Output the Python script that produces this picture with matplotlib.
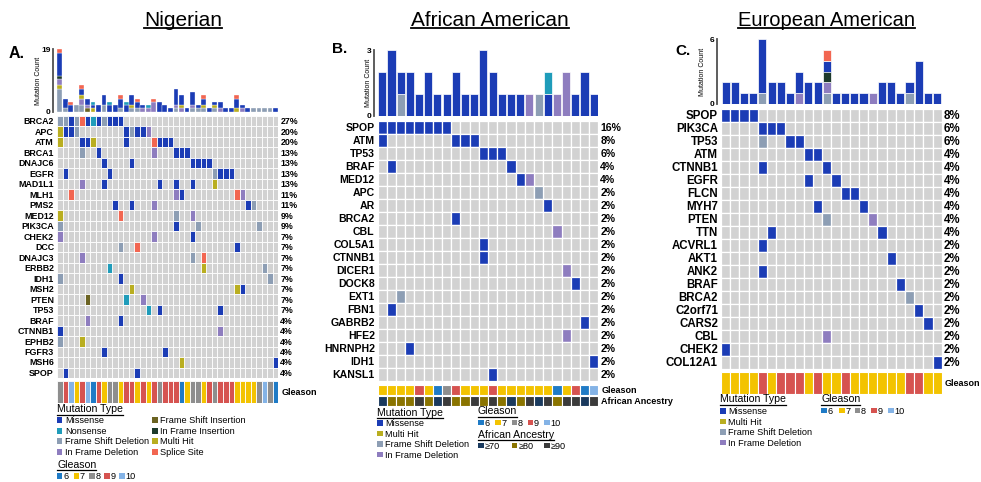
import numpy as np
import matplotlib.pyplot as plt
from matplotlib.patches import Rectangle
from matplotlib.lines import Line2D
from matplotlib.transforms import blended_transform_factory

plt.rcParams['font.family'] = ['Liberation Sans', 'DejaVu Sans']

# mutation codes: M missense, N nonsense, D frame shift deletion, I in frame deletion,
# S frame shift insertion, E in frame insertion, H multi hit, P splice site
mut_colors = {'M': '#1b3cb5', 'N': '#1f9cba', 'D': '#8d9eb4', 'I': '#8e7dbf',
              'S': '#6b6322', 'E': '#1d3a2c', 'H': '#b9ae20', 'P': '#f26651'}
gleason_colors = {6: '#1f7bc6', 7: '#f3c300', 8: '#8e8e8e', 9: '#d65350', 10: '#84b3e6'}
ancestry_colors = {70: '#1a3a5e', 80: '#8a7400', 90: '#3b3b3b'}
grid_bg = '#d2d2d2'

# ---- Nigerian ----
a_genes = ['BRCA2', 'APC', 'ATM', 'BRCA1', 'DNAJC6', 'EGFR', 'MAD1L1', 'MLH1', 'PMS2',
           'MED12', 'PIK3CA', 'CHEK2', 'DCC', 'DNAJC3', 'ERBB2', 'IDH1', 'MSH2', 'PTEN',
           'TP53', 'BRAF', 'CTNNB1', 'EPHB2', 'FGFR3', 'MSH6', 'SPOP']
a_pct = [27, 20, 20, 13, 13, 13, 13, 11, 11, 9, 9, 7, 7, 7, 7, 7, 7, 7, 7, 4, 4, 4, 4, 4, 4]
a_cells = ["0D 1D 2M 3D 4P 5M 6N 7M 8D 9M 10M 11M",
           "0H 1M 2M 3D 12M 13D 14M 15M 16I",
           "0H 4M 5M 6H 12M 17P 18M 19M 20M",
           "4D 7M 17I 21M 22M 23M",
           "8M 13M 24M 25M 26M 27M",
           "1M 9M 28D 29M 30M 31M",
           "4I 8M 18M 21M 24M 28H",
           "2P 21I 22M 32P 33I",
           "10M 13M 17I 34M 35D",
           "0H 11P 21D 24I",
           "0D 21M 25D 36D",
           "0I 17I 24M",
           "11D 14P 32M",
           "4I 24D 26P",
           "9N 26H 37D",
           "0D 11M 38D",
           "13H 32H 33M",
           "5S 12N 15I",
           "16N 18M 29M",
           "5I 11M",
           "0M 29I",
           "0D 4H",
           "8M 19M",
           "22H 39M",
           "1M 14M"]
# per-sample mutation stacks, bottom to top
a_stacks = ["DDDDDDDHIIEMMMMMMMP", "DMMM", "MMP", "DD", "DDIIHMMP", "SIMM", "HMN", "MM",
            "DDMMM", "MMN", "MM", "DMMMP", "MMN", "DHMMM", "DMMP", "IM", "IN", "IIIP",
            "MMM", "MM", "M", "DIMMMMM", "IHMMM", "M", "DIMMMM", "DM", "DHMMP", "M",
            "DHM", "IMM", "M", "M", "HMMMP", "IM", "M", "D", "D", "D", "D", "M"]
a_gleason = [8, 9, 10, 7, 9, 10, 6, 9, 7, 8, 8, 7, 9, 9, 7, 9, 7, 9, 8, 9,
             9, 9, 6, 7, 8, 8, 7, 9, 8, 9, 9, 9, 7, 7, 7, 7, 8, 10, 8, 6]

# ---- African American ----
b_genes = ['SPOP', 'ATM', 'TP53', 'BRAF', 'MED12', 'APC', 'AR', 'BRCA2', 'CBL', 'COL5A1',
           'CTNNB1', 'DICER1', 'DOCK8', 'EXT1', 'FBN1', 'GABRB2', 'HFE2', 'HNRNPH2',
           'IDH1', 'KANSL1']
b_pct = [16, 8, 6, 4, 4, 2, 2, 2, 2, 2, 2, 2, 2, 2, 2, 2, 2, 2, 2, 2]
b_cells = ["0M 1M 2M 3M 4M 5M 6M 7M", "0M 8M 9M 10M", "11M 12M 13M", "1M 14M",
           "15M 16I", "17D", "18M", "8M", "19I", "11M", "11M", "20I", "21M", "2D",
           "1M", "22M", "20I", "3M", "23M", "12M"]
b_stacks = ["MM", "MMM", "DM", "MM", "M", "MM", "M", "M", "MM", "M", "M", "MMM",
            "MM", "M", "M", "M", "I", "D", "MN", "I", "II", "M", "MM", "M"]
b_gleason = [7, 7, 7, 7, 9, 7, 6, 8, 9, 7, 7, 7, 9, 7, 7, 7, 7, 7, 7, 6, 7, 9, 6, 10]
b_ancestry = [70, 80, 80, 80, 90, 80, 70, 90, 80, 80, 90, 80, 90, 80, 70, 80, 90, 70,
              90, 80, 90, 90, 70, 90]

# ---- European American ----
c_genes = ['SPOP', 'PIK3CA', 'TP53', 'ATM', 'CTNNB1', 'EGFR', 'FLCN', 'MYH7', 'PTEN',
           'TTN', 'ACVRL1', 'AKT1', 'ANK2', 'BRAF', 'BRCA2', 'C2orf71', 'CARS2', 'CBL',
           'CHEK2', 'COL12A1']
c_pct = [8, 6, 6, 4, 4, 4, 4, 4, 4, 4, 2, 2, 2, 2, 2, 2, 2, 2, 2, 2]
c_cells = ["0M 1M 2M 3M", "4M 5M 6M", "4D 7M 8M", "9M 10M", "4M 11M", "9M 12M",
           "13M 14M", "10M 15M", "11D 16I", "5M 17M", "4M", "18M", "4M", "19M", "20D",
           "21M", "22M", "11I", "0M", "23M"]
c_stacks = ["MM", "MM", "M", "M", "DMMMMM", "MM", "MM", "M", "IMM", "MM", "MM", "DIEMP",
            "M", "M", "M", "M", "I", "MM", "MM", "M", "DM", "MMMM", "M", "M"]
c_gleason = [7, 7, 7, 7, 9, 7, 9, 9, 9, 7, 9, 7, 7, 9, 7, 7, 7, 7, 7, 7, 9, 9, 7, 7]

W, H = 981, 482
fig = plt.figure(figsize=(W / 100, H / 100), dpi=100)
underlined = []


def fx(x):
    return x / W


def fy(y):
    return 1 - y / H


def half_cap(size):
    # half the cap height in pixels, so a baseline can sit a row's centre
    return 0.36 * size * 100 / 72


def px_axes(x0, y0, x1, y1):
    return fig.add_axes([fx(x0), fy(y1), (x1 - x0) / W, (y1 - y0) / H])


def parse(spec):
    return [(int(tok[:-1]), tok[-1]) for tok in spec.split()]


def ctext(x, y, s, size, **kw):
    # text whose capitals are centred on pixel row y
    return fig.text(fx(x), fy(y + half_cap(size)), s, va='baseline', fontsize=size, **kw)


def draw_bars(box, stacks, ymax, label_x, lw):
    x0, y0, x1, y1 = box
    ax = px_axes(*box)
    for i, s in enumerate(stacks):
        # one segment per run of the same mutation type
        j = 0
        while j < len(s):
            k = j
            while k < len(s) and s[k] == s[j]:
                k += 1
            ax.bar(i + 0.5, k - j, bottom=j, width=0.88, color=mut_colors[s[j]],
                   edgecolor='white', linewidth=lw)
            j = k
    ax.set_xlim(0, len(stacks))
    ax.set_ylim(0, ymax)
    for side in ['top', 'right', 'bottom']:
        ax.spines[side].set_visible(False)
    ax.spines['left'].set_position(('outward', 3))
    ax.spines['left'].set_color('#505050')
    ax.spines['left'].set_linewidth(1.3)
    ax.set_xticks([])
    ax.set_yticks([0, ymax])
    ax.tick_params(axis='y', length=0, pad=1.5, labelsize=6)
    for lab in ax.get_yticklabels():
        lab.set_fontweight('bold')
    ax.patch.set_alpha(0)
    fig.text(fx(label_x), fy((y0 + y1) / 2), 'Mutation Count', rotation=90,
             ha='center', va='center', fontsize=5)


def draw_grid(box, genes, cells, pct, ncol, size, lw):
    x0, y0, x1, y1 = box
    ax = px_axes(*box)
    nrow = len(genes)
    for r in range(nrow):
        for c in range(ncol):
            ax.add_patch(Rectangle((c, r), 1, 1, fc=grid_bg, ec='white', lw=lw))
        for c, code in parse(cells[r]):
            ax.add_patch(Rectangle((c, r), 1, 1, fc=mut_colors[code], ec='white', lw=lw))
    ax.set_xlim(0, ncol)
    ax.set_ylim(nrow, 0)
    ax.set_axis_off()
    rowh = (y1 - y0) / nrow
    for r, (g, p) in enumerate(zip(genes, pct)):
        yc = y0 + (r + 0.5) * rowh
        ctext(x0 - 3, yc, g, size, ha='right', fontweight='bold')
        ctext(x1 + 2, yc, f'{p}%', size, ha='left', fontweight='bold')


def draw_track(box, values, colors, label, lw):
    x0, y0, x1, y1 = box
    ax = px_axes(*box)
    for c, v in enumerate(values):
        ax.add_patch(Rectangle((c, 0), 1, 1, fc=colors[v], ec='white', lw=lw))
    ax.set_xlim(0, len(values))
    ax.set_ylim(0, 1)
    ax.set_axis_off()
    ctext(x1 + 3, (y0 + y1) / 2, label, 6.5, ha='left', fontweight='bold')


def uline_text(x, y, s, size, lw=0.9, **kw):
    t = fig.text(fx(x), fy(y), s, ha=kw.pop('ha', 'left'), va='baseline', fontsize=size, **kw)
    underlined.append((t, y, lw))


def square_item(x, y, color, label, size=6.6, gap=8):
    fig.add_artist(Rectangle((fx(x), fy(y + 2.8)), 5.5 / W, 5.5 / H,
                             transform=fig.transFigure, fc=color, ec='none'))
    ctext(x + gap, y, label, size, ha='left')


# titles and panel letters
uline_text(183, 26, 'Nigerian', 15, lw=1.3, ha='center')
uline_text(490, 26, 'African American', 15, lw=1.3, ha='center')
uline_text(826, 26, 'European American', 14.5, lw=1.3, ha='center')
fig.text(fx(9), fy(58), 'A.', fontsize=11.5, fontweight='bold', va='baseline')
fig.text(fx(332), fy(53), 'B.', fontsize=11, fontweight='bold', va='baseline')
fig.text(fx(675), fy(55), 'C.', fontsize=11, fontweight='bold', va='baseline')

# panel A
draw_bars((57, 49.3, 278.3, 111.7), a_stacks, 19, 39, 0.25)
draw_grid((57, 116, 278.3, 378), a_genes, a_cells, a_pct, 40, 6.4, 0.6)
draw_track((57, 381, 278.3, 402.5), a_gleason, gleason_colors, 'Gleason', 0.6)

uline_text(57, 412.5, 'Mutation Type', 7.6)
a_left = [('M', 'Missense'), ('N', 'Nonsense'), ('D', 'Frame Shift Deletion'), ('I', 'In Frame Deletion')]
a_right = [('S', 'Frame Shift Insertion'), ('E', 'In Frame Insertion'), ('H', 'Multi Hit'), ('P', 'Splice Site')]
for yy, (k, lab) in zip([420, 431, 441, 452], a_left):
    square_item(57, yy, mut_colors[k], lab)
for yy, (k, lab) in zip([420, 431, 441, 452], a_right):
    square_item(152, yy, mut_colors[k], lab)
uline_text(57, 467.5, 'Gleason', 7.6)
for xx, g in zip([57, 73.5, 89, 104, 119], [6, 7, 8, 9, 10]):
    square_item(xx, 476, gleason_colors[g], str(g), gap=6.3)

# panel B
draw_bars((377.7, 50, 598.3, 116), b_stacks, 3, 369, 0.5)
draw_grid((377.7, 121, 598.3, 381), b_genes, b_cells, b_pct, 24, 7.6, 0.9)
draw_track((377.7, 384.5, 598.3, 395), b_gleason, gleason_colors, 'Gleason', 0.8)
draw_track((377.7, 395.5, 598.3, 405.5), b_ancestry, ancestry_colors, 'African Ancestry', 0.8)

uline_text(377, 415.5, 'Mutation Type', 7.6)
b_types = [('M', 'Missense'), ('H', 'Multi Hit'), ('D', 'Frame Shift Deletion'), ('I', 'In Frame Deletion')]
for yy, (k, lab) in zip([423, 433.5, 444, 454.5], b_types):
    square_item(377, yy, mut_colors[k], lab)
uline_text(478, 414.5, 'Gleason', 7.6)
for xx, g in zip([478, 495, 511.5, 527.5, 544], [6, 7, 8, 9, 10]):
    square_item(xx, 422.5, gleason_colors[g], str(g), gap=6.3)
uline_text(478, 437.5, 'African Ancestry', 7.6)
for xx, a in zip([478, 511.5, 544], [70, 80, 90]):
    square_item(xx, 445.5, ancestry_colors[a], '\u2265' + str(a), gap=7)

# panel C
draw_bars((721, 39, 941.7, 104), c_stacks, 6, 703, 0.5)
draw_grid((721, 108.5, 941.7, 368.5), c_genes, c_cells, c_pct, 24, 8.3, 0.9)
draw_track((721, 372, 941.7, 394), c_gleason, gleason_colors, 'Gleason', 0.8)

uline_text(720, 402.5, 'Mutation Type', 7.6)
for yy, (k, lab) in zip([411, 421.5, 432, 442.5], b_types):
    square_item(720, yy, mut_colors[k], lab)
uline_text(821, 402.5, 'Gleason', 7.6)
for xx, g in zip([821, 839, 854.5, 871, 888], [6, 7, 8, 9, 10]):
    square_item(xx, 410.5, gleason_colors[g], str(g), gap=6.3)

# underline the headings once their widths are known
renderer = fig.canvas.get_renderer()
for t, y, lw in underlined:
    bb = t.get_window_extent(renderer)
    yl = fy(y + 2.2)
    fig.add_artist(Line2D([bb.x0 / W, bb.x1 / W], [yl, yl], transform=fig.transFigure,
                          color='black', lw=lw))

fig.savefig('out.png', dpi=100)
